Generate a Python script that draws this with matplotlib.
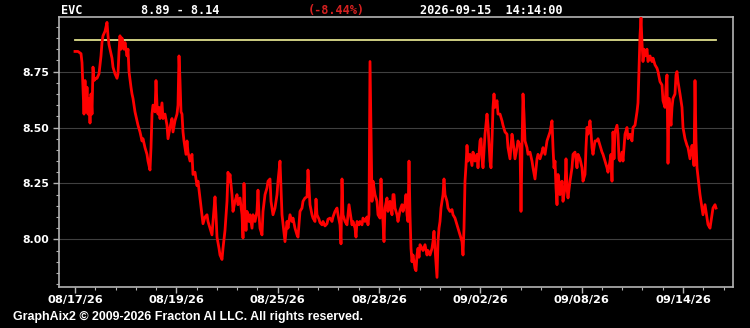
import matplotlib
matplotlib.use('Agg')
import matplotlib.pyplot as plt
import numpy as np
from matplotlib.ticker import FixedLocator, MultipleLocator

# bar index (intraday bars) and last price
bar = [0, 3, 6, 7, 8, 9, 10, 11, 12, 13, 14, 15, 16, 17, 18, 19, 21, 22, 24, 26,
       27, 28, 30, 32, 33, 34, 35, 37, 38, 40, 42, 43, 44, 45, 46, 47, 48, 49, 50, 52,
       53, 54, 56, 57, 58, 60, 62, 63, 65, 67, 68, 70, 72, 73, 75, 76, 77, 78, 80, 81,
       82, 83, 84, 85, 87, 88, 90, 92, 93, 95, 97, 98, 100, 102, 103, 104, 105, 106, 107, 108,
       109, 111, 112, 113, 115, 117, 118, 120, 122, 123, 125, 127, 128, 130, 132, 133, 135, 137, 138, 140,
       141, 142, 144, 145, 147, 148, 150, 152, 153, 154,
       155, 157, 158, 160, 162, 163, 165, 167, 168, 169, 170, 171, 172, 174, 175, 177, 178, 180, 182, 183,
       184, 185, 187, 188, 190, 192, 193, 195, 196, 197, 198, 200, 202, 203, 205, 206, 207, 208, 210, 212,
       213, 215, 217, 218, 220, 222, 223, 225, 227, 228, 230, 232, 233, 234, 235, 237, 238, 240, 241, 242,
       244, 245, 247, 248, 250, 252, 253, 255, 257, 258, 260, 262, 263, 265, 266, 267, 268, 270, 272, 273,
       274, 276, 277, 278, 280, 281, 282, 284, 285, 287, 288, 290, 292, 293, 294, 295, 296, 297, 298, 300,
       302, 303, 305, 306, 307, 308, 309, 310, 312, 313, 315, 317, 318,
       319, 320, 322, 323, 325, 327, 328, 330, 331, 332, 333, 334, 335, 336, 337, 338, 340, 341, 342, 343,
       344, 345, 347, 348, 350, 352, 353, 355, 357, 358, 359, 360, 362, 363, 364, 365, 366, 367, 368, 369,
       370, 372, 373, 375, 377, 378, 380, 382, 383, 385, 387, 388, 389, 390, 391, 392, 393, 395, 397, 398,
       400, 402, 403, 405, 406, 407, 408, 410, 412, 413, 415, 416, 417, 418, 419, 420, 422, 423, 425, 427,
       428, 430, 432, 433, 435, 437, 438, 440, 442, 443, 445, 446, 447, 448, 449, 450, 452, 453, 455, 457,
       458, 460, 462, 463, 465, 467, 468, 470, 472,
       475, 477, 478, 479, 480, 481, 482, 483, 484, 485, 487, 488, 490, 491, 492, 493, 495, 497, 498, 500,
       502, 503, 505, 507, 508, 510, 511, 512, 513, 515, 516, 517, 518, 520, 522, 523, 525, 527, 528, 530,
       532, 533, 535, 536, 537, 538, 539, 540, 542, 543, 544, 545, 547, 548, 550, 552, 553, 555, 557, 558,
       560, 562, 563, 564, 565, 566, 567, 568, 569, 570, 572, 573, 575, 577, 578, 580, 582, 583, 585, 587,
       588, 590, 591, 592, 593, 594, 595, 596, 597, 598, 600, 601, 602, 603, 605, 607, 608, 610, 612, 613,
       615, 617, 618, 619, 620, 621, 622, 624, 625, 627, 628, 630, 632, 633, 635, 637, 638, 640, 641]
price = [8.84, 8.84, 8.83, 8.79, 8.68, 8.56, 8.71, 8.57, 8.68, 8.56, 8.63, 8.52, 8.65, 8.56, 8.77, 8.71, 8.72, 8.72, 8.74, 8.82,
         8.88, 8.91, 8.93, 8.97, 8.91, 8.87, 8.85, 8.81, 8.77, 8.74, 8.72, 8.74, 8.84, 8.91, 8.85, 8.90, 8.87, 8.85, 8.88, 8.82,
         8.85, 8.75, 8.68, 8.65, 8.63, 8.57, 8.53, 8.51, 8.48, 8.44, 8.45, 8.41, 8.38, 8.35, 8.31, 8.41, 8.56, 8.60, 8.57, 8.71,
         8.60, 8.56, 8.59, 8.54, 8.61, 8.54, 8.56, 8.51, 8.45, 8.50, 8.54, 8.48, 8.53, 8.56, 8.60, 8.82, 8.71, 8.57, 8.56, 8.48,
         8.44, 8.38, 8.44, 8.39, 8.35, 8.38, 8.29, 8.30, 8.24, 8.26, 8.185, 8.11, 8.07, 8.10, 8.11, 8.08, 8.05, 8.02, 8.08, 8.19,
         8.11, 8.01, 7.96, 7.93, 7.91, 7.96, 8.04, 8.17, 8.30, 8.26,
         8.29, 8.20, 8.125, 8.17, 8.20, 8.155, 8.185, 8.11, 8.006, 8.25, 8.11, 8.04, 8.125, 8.08, 8.11, 8.05, 8.11, 8.08, 8.125, 8.22,
         8.11, 8.05, 8.02, 8.125, 8.20, 8.23, 8.26, 8.27, 8.17, 8.14, 8.11, 8.14, 8.20, 8.26, 8.35, 8.23, 8.11, 8.07, 7.99, 8.08,
         8.05, 8.11, 8.08, 8.095, 8.05, 8.02, 8.01, 8.125, 8.14, 8.17, 8.185, 8.19, 8.31, 8.23, 8.155, 8.11, 8.095, 8.08, 8.18, 8.11,
         8.09, 8.075, 8.065, 8.08, 8.06, 8.07, 8.09, 8.095, 8.08, 8.10, 8.125, 8.14, 8.11, 8.065, 7.98, 8.27, 8.11, 8.08, 8.065, 8.11,
         8.155, 8.095, 8.065, 8.08, 8.05, 8.01, 8.08, 8.065, 8.08, 8.065, 8.095, 8.08, 8.10, 8.065, 8.11, 8.795, 8.48, 8.17, 8.26, 8.20,
         8.17, 8.11, 8.095, 8.27, 8.14, 8.08, 7.99, 8.14, 8.185, 8.125, 8.17, 8.11, 8.20,
         8.20, 8.14, 8.11, 8.08, 8.13, 8.155, 8.125, 8.16, 8.20, 8.11, 8.08, 8.35, 8.11, 7.96, 7.90, 7.93, 7.87, 7.86, 7.93, 7.96,
         7.92, 7.976, 7.96, 7.95, 7.976, 7.93, 7.95, 7.93, 7.96, 7.99, 8.036, 7.96, 7.83, 7.99, 8.05, 8.08, 8.14, 8.17, 8.20, 8.27,
         8.20, 8.17, 8.14, 8.125, 8.133, 8.11, 8.095, 8.066, 8.05, 8.02, 7.99, 7.93, 8.05, 8.26, 8.33, 8.42, 8.35, 8.38, 8.33, 8.39,
         8.35, 8.38, 8.32, 8.44, 8.45, 8.36, 8.32, 8.47, 8.56, 8.51, 8.35, 8.32, 8.44, 8.59, 8.65, 8.59, 8.62, 8.56, 8.56, 8.53,
         8.51, 8.48, 8.47, 8.41, 8.36, 8.47, 8.44, 8.36, 8.41, 8.44, 8.42, 8.125, 8.41, 8.65, 8.56, 8.44, 8.41, 8.38, 8.39, 8.35,
         8.32, 8.27, 8.36, 8.38, 8.36, 8.39, 8.41, 8.38, 8.44,
         8.48, 8.53, 8.41, 8.32, 8.35, 8.23, 8.155, 8.29, 8.26, 8.20, 8.26, 8.17, 8.23, 8.36, 8.23, 8.185, 8.26, 8.32, 8.38, 8.39,
         8.32, 8.38, 8.36, 8.32, 8.26, 8.29, 8.41, 8.50, 8.47, 8.53, 8.48, 8.41, 8.38, 8.44, 8.44, 8.45, 8.42, 8.39, 8.38, 8.35,
         8.32, 8.30, 8.35, 8.38, 8.26, 8.48, 8.36, 8.48, 8.51, 8.47, 8.36, 8.35, 8.39, 8.35, 8.47, 8.50, 8.45, 8.47, 8.44, 8.50,
         8.51, 8.57, 8.61, 8.765, 8.91, 8.99, 8.88, 8.795, 8.85, 8.82, 8.85, 8.795, 8.82, 8.795, 8.81, 8.78, 8.765, 8.75, 8.705, 8.69,
         8.62, 8.59, 8.68, 8.735, 8.34, 8.63, 8.56, 8.51, 8.59, 8.63, 8.65, 8.735, 8.75, 8.705, 8.65, 8.59, 8.50, 8.45, 8.42, 8.41,
         8.36, 8.42, 8.39, 8.33, 8.71, 8.44, 8.32, 8.24, 8.20, 8.14, 8.11, 8.155, 8.095, 8.066, 8.05, 8.11, 8.14, 8.155, 8.14]

open_price = 8.89
date_labels = ['08/17/26', '08/19/26', '08/25/26', '08/28/26', '09/02/26', '09/08/26', '09/14/26']
label_step = 101.33

fig = plt.figure(figsize=(7.5, 3.28), dpi=100, facecolor='black')
ax = fig.add_axes([59/750, 41/328, 674/750, 270/328], facecolor='black')

ax.axhline(open_price, xmin=16/674, xmax=657/674, color='#dede8c', lw=1.3, zorder=2)
ax.plot(bar, price, color='#ff0000', lw=2.0, zorder=3)

ax.set_xlim(-16, 658)
ax.set_ylim(7.787, 8.994)

ticks = [i*label_step for i in range(len(date_labels))]
ax.xaxis.set_major_locator(FixedLocator(ticks))
ax.set_xticklabels(date_labels)
ax.xaxis.set_minor_locator(MultipleLocator(label_step/5))
ax.yaxis.set_major_locator(FixedLocator([8.00, 8.25, 8.50, 8.75]))
ax.set_yticklabels(['8.00', '8.25', '8.50', '8.75'])
ax.yaxis.set_minor_locator(MultipleLocator(0.05))

ax.grid(axis='y', color='#404040', lw=0.8, zorder=1)
for s in ax.spines.values():
    s.set_color('#b4b4b4')
    s.set_linewidth(1.2)

ax.tick_params(which='both', colors='#b4b4b4', direction='out')
ax.tick_params(which='major', length=4, width=1)
ax.tick_params(which='minor', length=2, width=0.8)
for lab in ax.get_xticklabels():
    lab.set_color('white'); lab.set_fontweight('bold'); lab.set_fontsize(8.2)
for lab in ax.get_yticklabels():
    lab.set_color('white'); lab.set_fontweight('bold'); lab.set_fontsize(7.8)
ax.tick_params(axis='x', pad=2)
ax.tick_params(axis='y', pad=3)

mono = dict(family='DejaVu Sans Mono', fontweight='bold', fontsize=8.6, va='baseline')
fig.text(61/750, 1-14/328, 'EVC', color='white', **mono)
fig.text(141/750, 1-14/328, '8.89 - 8.14', color='white', **mono)
fig.text(308/750, 1-14/328, '(-8.44%)', color='#d42020', **mono)
fig.text(420/750, 1-14/328, '2026-09-15  14:14:00', color='white', **mono)

fig.text(13/750, 1-320/328, 'GraphAix2 \u00a9 2009-2026 Fracton AI LLC. All rights reserved.',
         color='white', family='Liberation Sans', fontweight='bold', fontsize=8.9, va='baseline')

fig.savefig('out.png', dpi=100, facecolor='black')
